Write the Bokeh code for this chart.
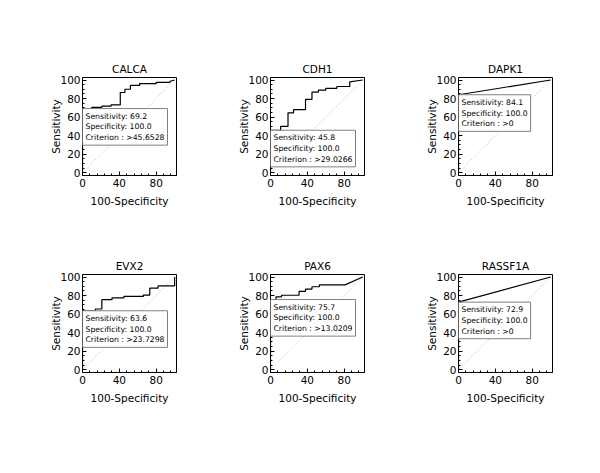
from bokeh.plotting import figure
from bokeh.layouts import gridplot
from bokeh.models import Label, FixedTicker, Range1d
from bokeh.embed import file_html
from bokeh.resources import INLINE

# ---------------- data ----------------
genes = ["CALCA", "CDH1", "DAPK1", "EVX2", "PAX6", "RASSF1A"]
sensitivity = [69.2, 45.8, 84.1, 63.6, 75.7, 72.9]
specificity = [100.0, 100.0, 100.0, 100.0, 100.0, 100.0]
criterion = [">45.6528", ">29.0266", ">0", ">23.7298", ">13.0209", ">0"]

calca_fpr = [0, 0, 10, 10, 21, 21, 31, 31, 41, 41, 46, 46, 52, 52, 62, 62, 80, 80, 95, 95, 100]
calca_tpr = [0, 69.2, 69.2, 70.5, 70.5, 71.8, 71.8, 73.1, 73.1, 86.5, 86.5, 90, 90, 94.2, 94.2, 96.2, 96.2, 97.5, 97.5, 98.7, 100]

cdh1_fpr = [0, 0, 11, 11, 19, 19, 25, 25, 38, 38, 45, 45, 52, 52, 60, 60, 72, 72, 86, 86, 100]
cdh1_tpr = [0, 45.8, 45.8, 50, 50, 64.6, 64.6, 68, 68, 79, 79, 87, 87, 89, 89, 91, 91, 93, 93, 98, 100]

dapk1_fpr = [0, 0, 100]
dapk1_tpr = [0, 84.1, 100]

evx2_fpr = [0, 0, 14, 14, 21, 21, 32, 32, 45, 45, 66, 66, 73, 73, 82, 82, 100, 100]
evx2_tpr = [0, 63.6, 63.6, 65.5, 65.5, 75.5, 75.5, 77.5, 77.5, 79, 79, 80.5, 80.5, 88, 88, 90.5, 90.5, 100]

pax6_fpr = [0, 0, 6, 6, 12, 12, 31, 31, 38, 38, 45, 45, 53, 53, 81, 100]
pax6_tpr = [0, 75.7, 75.7, 78.6, 78.6, 80.3, 80.3, 84.5, 84.5, 87, 87, 89.5, 89.5, 91.5, 91.5, 100]

rassf1a_fpr = [0, 0, 100]
rassf1a_tpr = [0, 72.9, 100]

ref_x = [0, 100]
ref_y = [0, 100]

x_ticks = [0, 40, 80]
x_minor = [8, 16, 24, 32, 48, 56, 64, 72, 88, 96]
y_ticks = [0, 20, 40, 60, 80, 100]
y_minor = [5, 10, 15, 25, 30, 35, 45, 50, 55, 65, 70, 75, 85, 90, 95]

curves = [(calca_fpr, calca_tpr), (cdh1_fpr, cdh1_tpr), (dapk1_fpr, dapk1_tpr),
          (evx2_fpr, evx2_tpr), (pax6_fpr, pax6_tpr), (rassf1a_fpr, rassf1a_tpr)]

FONT = "DejaVu Sans"


def make_panel(i):
    row = i // 3
    p = figure(
        frame_width=94, frame_height=98,
        min_border_left=82, min_border_right=12,
        min_border_top=77 if row == 0 else 59, min_border_bottom=40,
        x_range=Range1d(0, 102), y_range=Range1d(-3, 102.7),
        output_backend="svg", toolbar_location=None, title=genes[i],
    )
    p.title.align = "center"
    p.title.text_font = FONT
    p.title.text_font_size = "10.5px"
    p.title.text_font_style = "normal"
    p.title.text_color = "black"
    p.title.standoff = 6

    p.outline_line_color = "black"
    p.outline_line_width = 1
    p.xgrid.visible = False
    p.ygrid.visible = False

    p.xaxis.ticker = FixedTicker(ticks=x_ticks, minor_ticks=x_minor)
    p.yaxis.ticker = FixedTicker(ticks=y_ticks, minor_ticks=y_minor)
    p.xaxis.axis_label = "100-Specificity"
    p.yaxis.axis_label = "Sensitivity"
    for ax in (p.xaxis[0], p.yaxis[0]):
        ax.axis_line_color = "black"
        ax.major_tick_line_color = "black"
        ax.minor_tick_line_color = "black"
        ax.major_tick_in = 4
        ax.major_tick_out = 0
        ax.minor_tick_in = 2
        ax.minor_tick_out = 0
        ax.major_label_text_font = FONT
        ax.major_label_text_font_size = "10.5px"
        ax.major_label_text_color = "black"
        ax.axis_label_text_font = FONT
        ax.axis_label_text_font_size = "10.5px"
        ax.axis_label_text_font_style = "normal"
        ax.axis_label_text_color = "black"
    p.xaxis.major_label_standoff = 3
    p.xaxis.axis_label_standoff = 5
    p.yaxis.major_label_standoff = 2
    p.yaxis.axis_label_standoff = -5

    p.line(ref_x, ref_y, line_color="#b8b8b8", line_dash="1 2", line_width=1)
    fx, fy = curves[i]
    p.line(fx, fy, line_color="black", line_width=1.2)

    txt = "Sensitivity: %.1f\nSpecificity: %.1f\nCriterion : %s" % (
        sensitivity[i], specificity[i], criterion[i])
    lab = Label(x=0, y=sensitivity[i], text=txt, anchor="top_left",
                text_font=FONT, text_font_size="7.7px", text_color="black",
                text_line_height=1.2,
                border_line_color="#808080", border_line_width=1,
                background_fill_color="white", padding=3)
    p.add_layout(lab)
    return p


panels = [make_panel(i) for i in range(6)]
grid = gridplot([panels[0:3], panels[3:6]], toolbar_location=None)

open("out.html", "w").write(file_html(grid, INLINE))
